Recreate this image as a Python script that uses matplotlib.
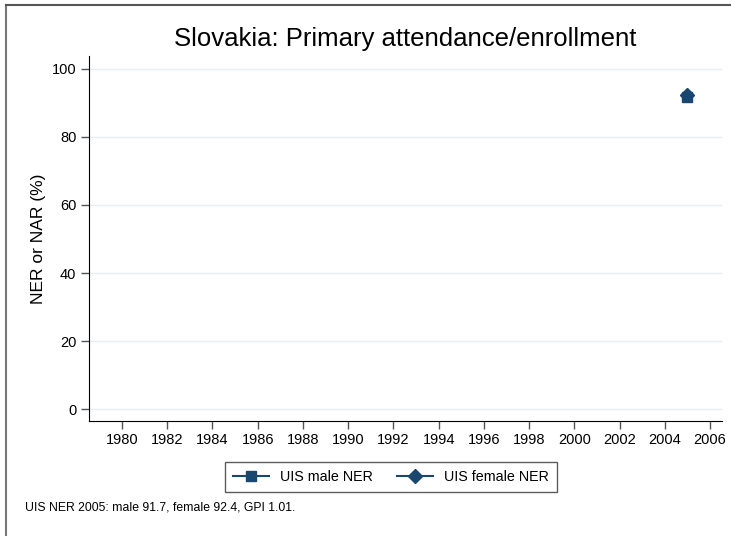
import matplotlib.pyplot as plt
from matplotlib.lines import Line2D

plt.rcParams['font.family'] = ['Liberation Sans', 'DejaVu Sans']

# data
years = [2005]
male_ner = [91.7]
female_ner = [92.4]
xticks = list(range(1980, 2007, 2))
yticks = [0, 20, 40, 60, 80, 100]
navy = '#1a476f'

fig = plt.figure(figsize=(7.31, 5.36), dpi=100)
W, H = 731, 536
ax = fig.add_axes([89 / W, 1 - 421 / H, (722 - 89) / W, (421 - 56) / H])

ax.plot(years, male_ner, marker='s', color=navy, markersize=7, linestyle='-')
ax.plot(years, female_ner, marker='D', color=navy, markersize=7, linestyle='-')

ax.set_xlim(1978.54, 2006.53)
ax.set_ylim(-3.5, 103.8)
ax.set_xticks(xticks)
ax.set_yticks(yticks)
ax.tick_params(labelsize=10.5, length=6, color='#555555', width=1, pad=3)
ax.grid(True, axis='y', color='#e8eff2', linewidth=1)
ax.set_axisbelow(True)
for s in ['top', 'right']:
    ax.spines[s].set_visible(False)
ax.set_ylabel('NER or NAR (%)', fontsize=12.5, labelpad=4)
ax.set_title('Slovakia: Primary attendance/enrollment', fontsize=18.5, pad=7)

handles = [
    Line2D([], [], color=navy, marker='s', markersize=7),
    Line2D([], [], color=navy, marker='D', markersize=7),
]
leg = fig.legend(handles, ['UIS male NER', 'UIS female NER'], ncol=2,
                 loc='center', bbox_to_anchor=(391 / W, 1 - 477 / H),
                 fontsize=10.3, frameon=True, fancybox=False, edgecolor='#333333',
                 handlelength=2.5, columnspacing=1.7, borderpad=0.55)
leg.get_frame().set_linewidth(1)

fig.text(25 / W, 1 - 507 / H, 'UIS NER 2005: male 91.7, female 92.4, GPI 1.01.',
         fontsize=8.8, va='center')

# outer frame (top and left edges visible)
fig.add_artist(Line2D([6 / W, 6 / W], [0, 1 - 5 / H], color='#777777', linewidth=1.5))
fig.add_artist(Line2D([6 / W, 1], [1 - 5 / H, 1 - 5 / H], color='#555555', linewidth=1.5))

fig.savefig('out.png', dpi=100)
